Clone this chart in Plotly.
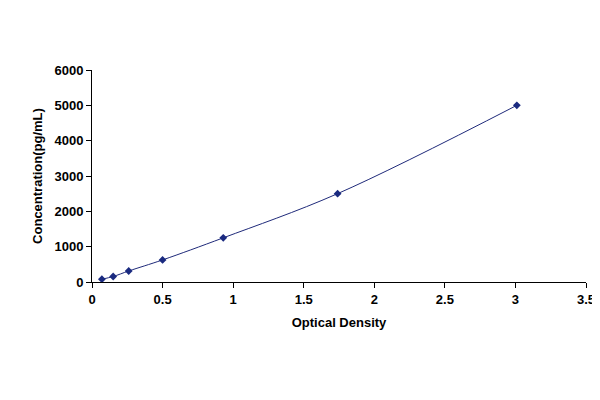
import plotly.graph_objects as go

od = [0.07, 0.15, 0.26, 0.50, 0.93, 1.74, 3.01]
conc = [78, 156, 312, 625, 1250, 2500, 5000]
xticks = [0, 0.5, 1, 1.5, 2, 2.5, 3, 3.5]
xlabels = ["0", "0.5", "1", "1.5", "2", "2.5", "3", "3.5"]
yticks = [0, 1000, 2000, 3000, 4000, 5000, 6000]

fig = go.Figure()
fig.add_trace(go.Scatter(x=od, y=conc, mode="lines+markers",
                         line=dict(color="#1f2a7a", width=1, shape="spline"),
                         marker=dict(symbol="diamond", size=6, color="#1a2a80")))
font = dict(family="Liberation Sans, Arial", size=13, color="black", weight="bold")
fig.update_layout(
    width=600, height=400, plot_bgcolor="white", paper_bgcolor="white",
    margin=dict(l=84, r=22, t=62, b=126), showlegend=False,
    font=font,
    xaxis=dict(range=[0, 3.5], tickvals=xticks, ticktext=xlabels, showgrid=False,
               zeroline=False, showline=True, linecolor="black", ticks="outside",
               ticklen=5, tickcolor="black", tickfont=font, automargin=False,
               title=dict(text="Optical Density", font=font, standoff=12)),
    yaxis=dict(range=[0, 6000], tickvals=yticks, showgrid=False, zeroline=False,
               showline=True, linecolor="black", ticks="outside", ticklen=5,
               tickcolor="black", tickfont=font, automargin=False,
               title=dict(text="Concentration(pg/mL)", font=font, standoff=8)),
)
fig.write_html("out.html")
